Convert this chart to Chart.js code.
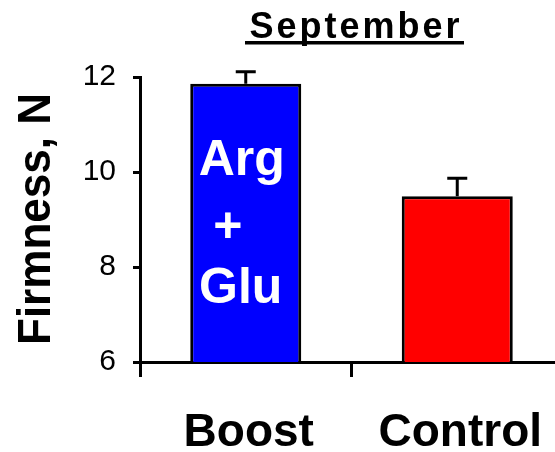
<!DOCTYPE html>
<html>
<head>
<meta charset="utf-8">
<script src="https://cdn.jsdelivr.net/npm/chart.js@4/dist/chart.umd.min.js"></script>
<style>
  html, body { margin: 0; padding: 0; background: #fff; overflow: hidden; width: 555px; height: 452px; }
  #chart { position: absolute; left: 0; top: 0; }
</style>
</head>
<body>
<canvas id="chart" width="563" height="452"></canvas>
<script>
const groups = ['Boost', 'Control']
const firmness = [11.86, 9.49]
const errors = [0.25, 0.38]
const barColors = ['#0000ff', '#ff0000']
const yTicks = [6, 8, 10, 12]
const titleText = 'September'
const yTitle = 'Firmness, N'
const insideLines = ['Arg', '+', 'Glu']

const FONT = '"Liberation Sans", Arial, sans-serif'

// error bars + all the extra text (title, y label, label inside the blue bar)
const extras = {
  id: 'extras',
  afterDatasetsDraw(chart) {
    const ctx = chart.ctx
    const x = chart.scales.x
    const y = chart.scales.y
    ctx.save()
    ctx.strokeStyle = '#000'
    ctx.lineWidth = 3
    firmness.forEach((v, i) => {
      const cx = x.getPixelForValue(i)
      const top = y.getPixelForValue(v + errors[i])
      const base = y.getPixelForValue(v)
      ctx.beginPath()
      ctx.moveTo(cx, base)
      ctx.lineTo(cx, top)
      ctx.moveTo(cx - 10, top)
      ctx.lineTo(cx + 10, top)
      ctx.stroke()
    })

    // text inside the Boost bar
    const bx = x.getPixelForValue(0)
    ctx.fillStyle = '#fff'
    ctx.font = 'bold 50px ' + FONT
    ctx.textAlign = 'center'
    ctx.textBaseline = 'alphabetic'
    ctx.fillText(insideLines[0], bx - 4, 175)
    ctx.fillText(insideLines[1], bx - 18, 242)
    ctx.fillText(insideLines[2], bx - 5, 303)

    // title, underlined
    ctx.fillStyle = '#000'
    ctx.font = 'bold 36px ' + FONT
    ctx.letterSpacing = '3px'
    ctx.textAlign = 'center'
    ctx.fillText(titleText, 356, 38)
    ctx.letterSpacing = '0px'
    ctx.fillRect(245, 41, 219, 3.5)

    // rotated y title, stretched to the length it has in the original
    ctx.font = 'bold 38px ' + FONT
    const w = ctx.measureText(yTitle).width
    ctx.translate(50, 219)
    ctx.rotate(-Math.PI / 2)
    ctx.scale(252 / w, 1.22)
    ctx.textAlign = 'center'
    ctx.fillText(yTitle, 0, 0)
    ctx.restore()
  }
}

new Chart(document.getElementById('chart'), {
  type: 'bar',
  data: {
    labels: groups,
    datasets: [{
      data: firmness,
      backgroundColor: barColors,
      borderColor: '#000',
      borderWidth: 3,
      borderSkipped: 'bottom',
      barPercentage: 0.525,
      categoryPercentage: 1
    }]
  },
  options: {
    responsive: false,
    animation: false,
    layout: { padding: { top: 77, left: 0, right: 0, bottom: 0 } },
    plugins: {
      legend: { display: false },
      tooltip: { enabled: false }
    },
    scales: {
      x: {
        offset: true,
        grid: {
          offset: true,
          drawOnChartArea: false,
          drawTicks: true,
          tickLength: 15,
          tickWidth: 3,
          tickColor: '#000'
        },
        border: { display: true, color: '#000', width: 3 },
        ticks: {
          color: '#000',
          padding: 29,
          labelOffset: 3,
          font: { family: FONT, size: 46, weight: 'bold' }
        },
        afterFit: (scale) => {
          scale.height = 90
          // labels sit well inside their slots, no need for side padding
          scale.paddingLeft = 0
          scale.paddingRight = 0
        }
      },
      y: {
        min: 6,
        max: 12,
        afterBuildTicks: (scale) => { scale.ticks = yTicks.map(v => ({ value: v })) },
        grid: {
          drawOnChartArea: false,
          drawTicks: true,
          tickLength: 7,
          tickWidth: 3,
          tickColor: '#000'
        },
        border: { display: true, color: '#000', width: 3 },
        ticks: {
          color: '#000',
          padding: 17,
          font: { family: FONT, size: 30 }
        },
        afterFit: (scale) => { scale.width = 140 }
      }
    }
  },
  plugins: [extras]
})
</script>
</body>
</html>
